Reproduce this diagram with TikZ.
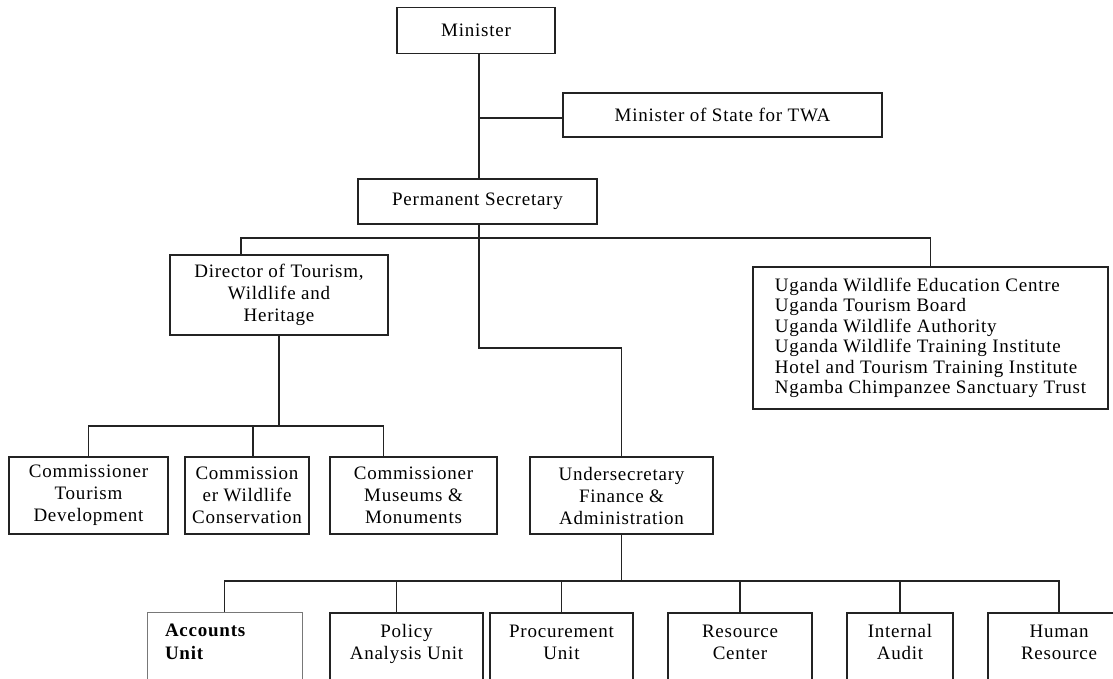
\documentclass[tikz,border=0pt]{standalone}
\usepackage{fontspec}
\setmainfont{Liberation Serif}[LetterSpace=4]
\usepackage{tikz}
\usetikzlibrary{positioning,calc}
\definecolor{myline}{RGB}{35,35,35}
\definecolor{mygray}{RGB}{120,120,120}

\begin{document}
\begin{tikzpicture}[x=1pt, y=-1pt,
    font=\fontsize{19pt}{22pt}\selectfont,
    orgbox/.style={draw=myline, line width=1.5pt, align=center, inner sep=0pt},
    unitbox/.style={orgbox, anchor=north, inner ysep=12pt, text depth=60pt},
    link/.style={draw=myline, line width=1.2pt}]
  \useasboundingbox (0,0) rectangle (1113,678);
  \clip (0,0) rectangle (1113,678);

  % Top of the ministry
  \node[orgbox, minimum width=158pt, minimum height=46pt] (minister) at (476,30.5) {Minister};
  \node[orgbox, minimum width=319pt, minimum height=44pt] (mos) at (722.5,115) {Minister of State for TWA};
  \node[orgbox, minimum width=239pt, minimum height=45pt] (ps) at (477.5,201.5) {Permanent Secretary};

  % Second level
  \node[orgbox, minimum width=218pt, minimum height=80pt] (dir) at (279,295)
    {Director of Tourism,\\Wildlife and\\Heritage};
  \node[orgbox, minimum width=355pt, minimum height=142pt, align=left,
        font=\fontsize{19pt}{20.5pt}\selectfont] (agencies) at (930.5,338)
    {Uganda Wildlife Education Centre\\Uganda Tourism Board\\Uganda Wildlife Authority\\
     Uganda Wildlife Training Institute\\Hotel and Tourism Training Institute\\
     Ngamba Chimpanzee Sanctuary Trust};

  % Commissioners and undersecretary
  \node[orgbox, minimum width=159pt, minimum height=77pt] (ctd) at (88.5,495.5)
    {Commissioner\\Tourism\\Development};
  \node[orgbox, minimum width=124pt, minimum height=77pt] (cwc) at (247,495.5)
    {Commission\\er Wildlife\\Conservation};
  \node[orgbox, minimum width=167pt, minimum height=77pt] (cmm) at (413.5,495.5)
    {Commissioner\\Museums \&\\Monuments};
  \node[orgbox, minimum width=183pt, minimum height=77pt] (ufa) at (621.5,495.5)
    {Undersecretary\\Finance \&\\Administration};

  % Units
  \node[unitbox, draw=mygray, line width=0.8pt, align=left, text width=119pt, inner xsep=18pt,
        font=\fontsize{19pt}{23pt}\selectfont\bfseries] (acc) at (224.5,612) {Accounts\\Unit};
  \node[unitbox, minimum width=153pt] (pau) at (406.5,612) {Policy\\Analysis Unit};
  \node[unitbox, minimum width=143pt] (pu) at (561.5,612) {Procurement\\Unit};
  \node[unitbox, minimum width=144pt] (rc) at (740,612) {Resource\\Center};
  \node[unitbox, minimum width=106pt] (ia) at (900,612) {Internal\\Audit};
  \node[unitbox, minimum width=142pt] (hr) at (1059,612) {Human\\Resource};

  % Junctions
  \coordinate (jmos) at (479,118);
  \coordinate (jps) at (479,238);
  \coordinate (jbend) at (479,348);
  \coordinate (jdir) at (279,426);
  \coordinate (junit) at (621.5,581);

  % Connectors
  \draw[link] (minister.south -| jmos) -- (ps.north -| jmos);
  \draw[link] (jmos) -- (jmos -| mos.west);
  \draw[link] (ps.south -| jps) -- (jbend) -| (ufa.north);
  \draw[link] ($(dir.north)+(-38,0)$) |- (jps) -| (agencies.north);
  \draw[link] (dir.south) -- (jdir);
  \draw[link] (ctd.north) |- (jdir) -| ($(cmm.north)+(-30,0)$);
  \draw[link] ($(cwc.north |- jdir)+(6,0)$) -- ($(cwc.north)+(6,0)$);
  \draw[link] (ufa.south) -- (junit);
  \draw[link] (acc.north) |- (junit) -| (hr.north);
  \foreach \u/\dx in {pau/-10, pu/0, rc/0, ia/0}{
    \draw[link] ($(\u.north |- junit)+(\dx,0)$) -- ($(\u.north)+(\dx,0)$);
  }
\end{tikzpicture}
\end{document}
